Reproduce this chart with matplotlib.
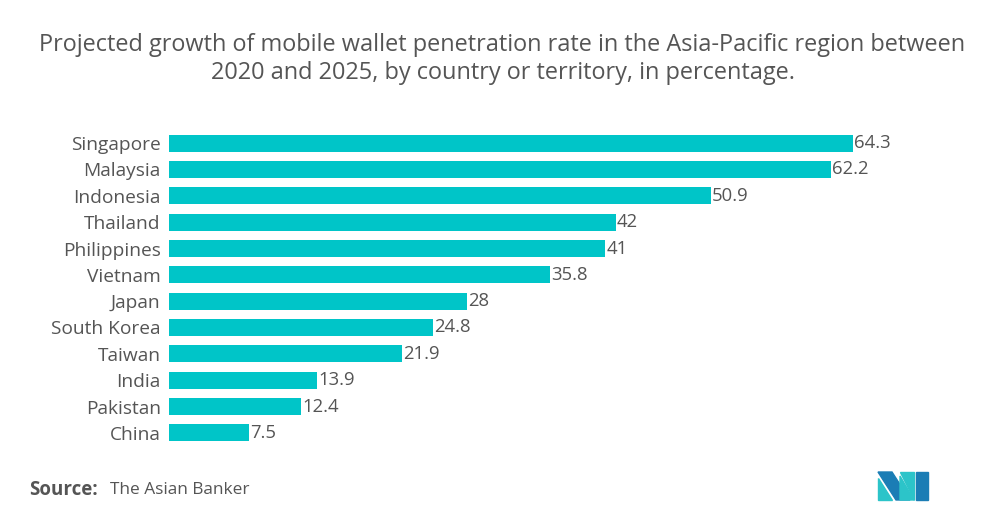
import matplotlib.pyplot as plt
from matplotlib.patches import Polygon

plt.rcParams['font.family'] = ['Open Sans', 'DejaVu Sans']

countries = ["Singapore", "Malaysia", "Indonesia", "Thailand", "Philippines", "Vietnam",
             "Japan", "South Korea", "Taiwan", "India", "Pakistan", "China"]
rates = [64.3, 62.2, 50.9, 42, 41, 35.8, 28, 24.8, 21.9, 13.9, 12.4, 7.5]
value_labels = ["64.3", "62.2", "50.9", "42", "41", "35.8", "28", "24.8", "21.9", "13.9", "12.4", "7.5"]

bar_color = "#00c5c8"
text_color = "#555555"

fig = plt.figure(figsize=(10.05, 5.21), dpi=100)
W, H = 1005, 521

# axes placed in pixel terms
left, right = 169, 914
top, bottom = 130, 446
ax = fig.add_axes([left / W, 1 - bottom / H, (right - left) / W, (bottom - top) / H])

ypos = list(range(len(countries)))
ax.barh(ypos, rates, height=0.65, color=bar_color)
ax.set_ylim(len(countries) - 0.5, -0.5)
ax.set_xlim(0, 70)
ax.set_yticks(ypos)
ax.set_yticklabels(countries, fontsize=13.8, color=text_color)
ax.tick_params(axis='y', length=0, pad=6)
ax.set_xticks([])
for s in ax.spines.values():
    s.set_visible(False)

for y, v, lab in zip(ypos, rates, value_labels):
    ax.text(v + 0.1, y, lab, va='center', ha='left', fontsize=13.3, color=text_color)

fig.text(0.5, 1 - 45 / H, "Projected growth of mobile wallet penetration rate in the Asia-Pacific region between",
         ha='center', va='center', fontsize=16.9, color=text_color)
fig.text(0.5, 1 - 73 / H, "2020 and 2025, by country or territory, in percentage.",
         ha='center', va='center', fontsize=16.9, color=text_color)

fig.text(29 / W, 1 - 490 / H, "Source:", ha='left', va='center', fontsize=13.5,
         fontweight='bold', color=text_color)
fig.text(110 / W, 1 - 490 / H, "The Asian Banker", ha='left', va='center', fontsize=12.4, color=text_color)

# logo
def px(pts):
    return [(x / W, 1 - y / H) for x, y in pts]

teal = "#2cc4c9"
dark = "#1b7db5"
logo = [
    (px([(878, 478), (878, 500), (892, 500)]), teal),
    (px([(878, 472), (892, 472), (910, 500), (896, 500)]), dark),
    (px([(900, 472), (914, 472), (914, 500)]), teal),
    (px([(916, 472), (928, 472), (928, 500), (916, 500)]), dark),
    (px([(900, 476), (914, 500), (900, 500)]), teal),
]
for pts, c in logo:
    fig.patches.append(Polygon(pts, closed=True, color=c, transform=fig.transFigure))

fig.savefig("out.png", dpi=100, facecolor='white')
